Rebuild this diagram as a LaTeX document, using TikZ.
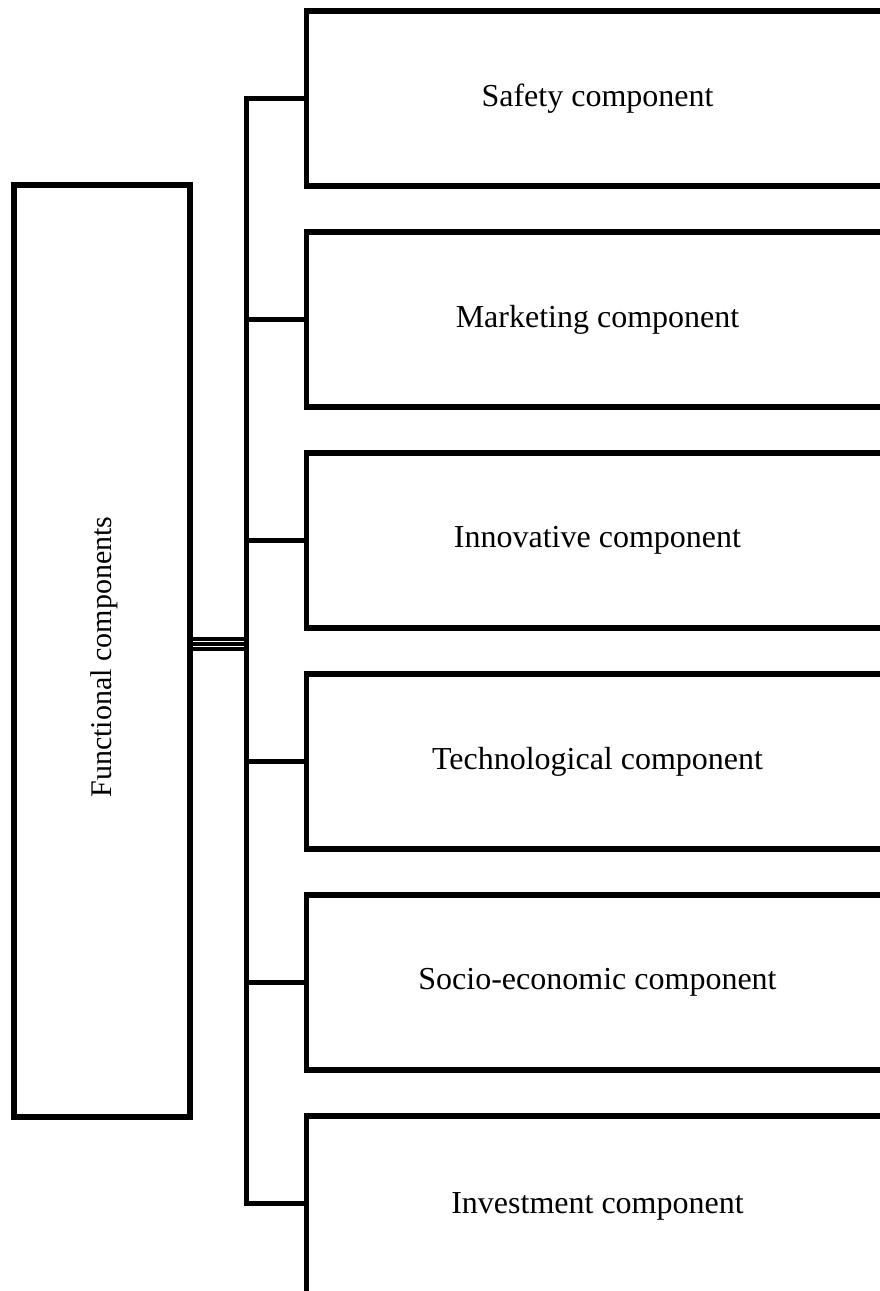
\documentclass[tikz,border=0pt]{standalone}
\usepackage{fontspec}
\setmainfont{Liberation Serif}
\usepackage{tikz}

\begin{document}
\begin{tikzpicture}[x=1pt, y=-1pt, line width=5.5pt,
  every node/.style={draw, line width=5.5pt, inner sep=0pt, outer sep=0pt, font=\fontsize{32}{38}\selectfont},
  compbox/.style={minimum width=582pt, minimum height=175pt}]
\useasboundingbox (0,0) rectangle (880,1291);

\node[minimum width=176pt, minimum height=932pt] (func) at (102,651) {};
\node[rotate=90, draw=none, font=\fontsize{30}{36}\selectfont] (functext) at (104,657) {Functional components};

\node[compbox] (safety) at (597.5,98.5) {Safety component};
\node[compbox] (marketing) at (597.5,319.5) {Marketing component};
\node[compbox] (innov) at (597.5,540.5) {Innovative component};
\node[compbox] (techn) at (597.5,761.5) {Technological component};
\node[compbox] (socio) at (597.5,982.5) {Socio-economic component};
\node[compbox, minimum height=180pt] (invest) at (597.5,1206) {Investment component};

% bus and branches
\coordinate (bustop) at (246.5,98.5);
\coordinate (busbot) at (246.5,1203.5);
\draw[line cap=rect] (bustop) -- (busbot);
\foreach \n in {safety,marketing,innov,socio,techn}
  \draw (\n.west) -- (\n.west -| bustop);
\draw (bustop |- busbot) -- (invest.west |- busbot);

% triple link from the left box
\foreach \dy in {12,7,2}
  \draw[line width=4.7pt] ([yshift=\dy pt]func.east) -- ([yshift=\dy pt]func.east -| bustop);
\end{tikzpicture}
\end{document}
